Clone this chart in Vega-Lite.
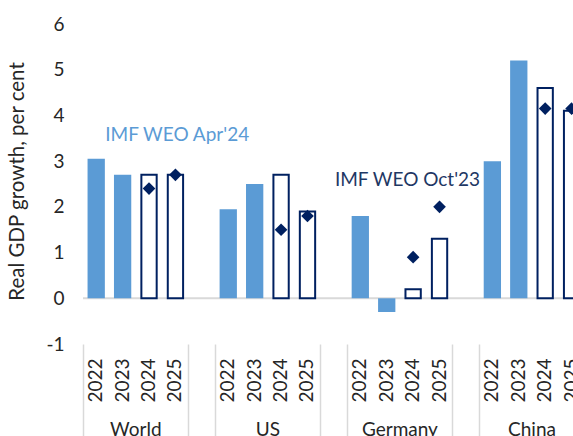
{
  "$schema": "https://vega.github.io/schema/vega-lite/v6.json",
  "width": 490,
  "height": 320,
  "autosize": {"type": "none"},
  "padding": {"left": 83, "top": 24, "right": 0, "bottom": 92},
  "background": "white",
  "config": {
    "view": {"stroke": null},
    "font": "Lato",
    "axis": {"labelFont": "Lato", "titleFont": "Lato", "labelColor": "#262626", "titleColor": "#262626", "grid": false, "domain": false},
    "axisY": {"labelPadding": 19, "ticks": false, "domain": false, "labelFontSize": 19, "titleFontSize": 20.5, "titleFontWeight": "normal", "titleAngle": 270, "titleX": -60, "titleY": 157, "titleAlign": "center", "titleBaseline": "alphabetic", "labelBaseline": "middle", "labelExpr": "replace(datum.label, '\u2212', '-')"}
  },
  "datasets": {
    "gdp": [
      {"key": "World 2022", "country": "World", "year": "2022", "kind": "outturn", "apr24": 3.05, "oct23": null},
      {"key": "World 2023", "country": "World", "year": "2023", "kind": "outturn", "apr24": 2.7, "oct23": null},
      {"key": "World 2024", "country": "World", "year": "2024", "kind": "forecast", "apr24": 2.7, "oct23": 2.4},
      {"key": "World 2025", "country": "World", "year": "2025", "kind": "forecast", "apr24": 2.7, "oct23": 2.7},
      {"key": "US 2022", "country": "US", "year": "2022", "kind": "outturn", "apr24": 1.95, "oct23": null},
      {"key": "US 2023", "country": "US", "year": "2023", "kind": "outturn", "apr24": 2.5, "oct23": null},
      {"key": "US 2024", "country": "US", "year": "2024", "kind": "forecast", "apr24": 2.7, "oct23": 1.5},
      {"key": "US 2025", "country": "US", "year": "2025", "kind": "forecast", "apr24": 1.9, "oct23": 1.8},
      {"key": "Germany 2022", "country": "Germany", "year": "2022", "kind": "outturn", "apr24": 1.8, "oct23": null},
      {"key": "Germany 2023", "country": "Germany", "year": "2023", "kind": "outturn", "apr24": -0.3, "oct23": null},
      {"key": "Germany 2024", "country": "Germany", "year": "2024", "kind": "forecast", "apr24": 0.2, "oct23": 0.9},
      {"key": "Germany 2025", "country": "Germany", "year": "2025", "kind": "forecast", "apr24": 1.3, "oct23": 2.0},
      {"key": "China 2022", "country": "China", "year": "2022", "kind": "outturn", "apr24": 3.0, "oct23": null},
      {"key": "China 2023", "country": "China", "year": "2023", "kind": "outturn", "apr24": 5.2, "oct23": null},
      {"key": "China 2024", "country": "China", "year": "2024", "kind": "forecast", "apr24": 4.6, "oct23": 4.15},
      {"key": "China 2025", "country": "China", "year": "2025", "kind": "forecast", "apr24": 4.1, "oct23": 4.15}
    ],
    "labels": [
      {"label": "IMF WEO Apr'24", "series": "apr24"},
      {"label": "IMF WEO Oct'23", "series": "oct23"}
    ]
  },
  "layer": [
    {
      "data": {"values": [{"zero": 0}]},
      "mark": {"type": "rule", "color": "#d9d9d9", "strokeWidth": 2},
      "encoding": {
        "y": {"field": "zero", "type": "quantitative", "scale": {"domain": [-1, 6], "nice": false, "zero": false}, "title": "Real GDP growth, per cent"}
      }
    },
    {
      "data": {"name": "gdp"},
      "transform": [{"filter": "datum.kind == 'outturn'"}],
      "mark": {"type": "bar", "color": "#5B9BD5", "width": {"band": 0.655}},
      "encoding": {
        "x": {
          "field": "key", "type": "nominal",
          "scale": {"type": "band", "domain": ["World 2022", "World 2023", "World 2024", "World 2025", "gap1", "US 2022", "US 2023", "US 2024", "US 2025", "gap2", "Germany 2022", "Germany 2023", "Germany 2024", "Germany 2025", "gap3", "China 2022", "China 2023", "China 2024", "China 2025"], "range": [0, 501.8], "paddingInner": 0, "paddingOuter": 0},
          "axis": {
            "orient": "bottom", "title": null,
            "values": ["World 2022", "World 2023", "World 2024", "World 2025", "US 2022", "US 2023", "US 2024", "US 2025", "Germany 2022", "Germany 2023", "Germany 2024", "Germany 2025", "China 2022", "China 2023", "China 2024", "China 2025"],
            "labelExpr": "slice(datum.value, -4)",
            "labelAngle": 270, "labelAlign": "right", "labelBaseline": "middle", "labelPadding": 14,
            "ticks": false, "domain": false, "labelFontSize": 19, "labelOverlap": false, "labelBound": false, "labelFlush": false, "bandPosition": 0.5
          }
        },
        "y": {"field": "apr24", "type": "quantitative", "scale": {"domain": [-1, 6], "nice": false, "zero": false}, "title": "Real GDP growth, per cent"}
      }
    },
    {
      "data": {"name": "gdp"},
      "transform": [{"filter": "datum.kind == 'forecast'"}],
      "mark": {"type": "bar", "fill": "white", "stroke": "#002060", "strokeWidth": 2, "width": {"band": 0.58}},
      "encoding": {
        "x": {
          "field": "key", "type": "nominal",
          "scale": {"type": "band", "domain": ["World 2022", "World 2023", "World 2024", "World 2025", "gap1", "US 2022", "US 2023", "US 2024", "US 2025", "gap2", "Germany 2022", "Germany 2023", "Germany 2024", "Germany 2025", "gap3", "China 2022", "China 2023", "China 2024", "China 2025"], "range": [0, 501.8], "paddingInner": 0, "paddingOuter": 0},
          "axis": {
            "orient": "bottom", "title": null,
            "values": ["World 2022", "gap1", "US 2022", "gap2", "Germany 2022", "gap3", "China 2022"],
            "bandPosition": 0, "labels": false, "ticks": true, "tickSize": 95, "tickColor": "#d9d9d9", "tickWidth": 1.5, "domain": false
          }
        },
        "y": {"field": "apr24", "type": "quantitative", "scale": {"domain": [-1, 6], "nice": false, "zero": false}, "title": "Real GDP growth, per cent"}
      }
    },
    {
      "data": {"name": "gdp"},
      "transform": [{"filter": {"field": "oct23", "valid": true}}],
      "mark": {"type": "point", "shape": "diamond", "filled": true, "color": "#002060", "size": 160, "opacity": 1},
      "encoding": {
        "x": {
          "field": "key", "type": "nominal",
          "scale": {"type": "band", "domain": ["World 2022", "World 2023", "World 2024", "World 2025", "gap1", "US 2022", "US 2023", "US 2024", "US 2025", "gap2", "Germany 2022", "Germany 2023", "Germany 2024", "Germany 2025", "gap3", "China 2022", "China 2023", "China 2024", "China 2025"], "range": [0, 501.8], "paddingInner": 0, "paddingOuter": 0},
          "axis": {
            "orient": "bottom", "title": null,
            "values": ["World 2024", "US 2024", "Germany 2024", "China 2024"],
            "bandPosition": 0.5, "labelOffset": -13.2,
            "labelExpr": "replace(datum.value, ' 2024', '')",
            "labelAngle": 0, "labelAlign": "center", "labelBaseline": "alphabetic", "labelPadding": 91,
            "ticks": false, "domain": false, "labelFontSize": 19, "labelBound": false, "labelOverlap": false
          }
        },
        "y": {"field": "oct23", "type": "quantitative", "scale": {"domain": [-1, 6], "nice": false, "zero": false}, "title": "Real GDP growth, per cent"}
      }
    },
    {
      "data": {"name": "labels"},
      "transform": [{"filter": "datum.series == 'apr24'"}],
      "mark": {"type": "text", "color": "#5B9BD5", "fontSize": 19, "font": "Lato", "align": "left", "baseline": "alphabetic", "dx": 9},
      "encoding": {
        "text": {"field": "label"},
        "x": {"datum": "World 2022", "type": "nominal", "axis": null},
        "y": {"datum": 3.44, "type": "quantitative", "scale": {"domain": [-1, 6], "nice": false, "zero": false}, "title": "Real GDP growth, per cent"}
      }
    },
    {
      "data": {"name": "labels"},
      "transform": [{"filter": "datum.series == 'oct23'"}],
      "mark": {"type": "text", "color": "#1F3864", "fontSize": 19, "font": "Lato", "align": "left", "baseline": "alphabetic", "dx": 1},
      "encoding": {
        "text": {"field": "label"},
        "x": {"datum": "gap2", "type": "nominal", "axis": null},
        "y": {"datum": 2.46, "type": "quantitative", "scale": {"domain": [-1, 6], "nice": false, "zero": false}, "title": "Real GDP growth, per cent"}
      }
    }
  ],
  "resolve": {"axis": {"x": "independent"}}
}
